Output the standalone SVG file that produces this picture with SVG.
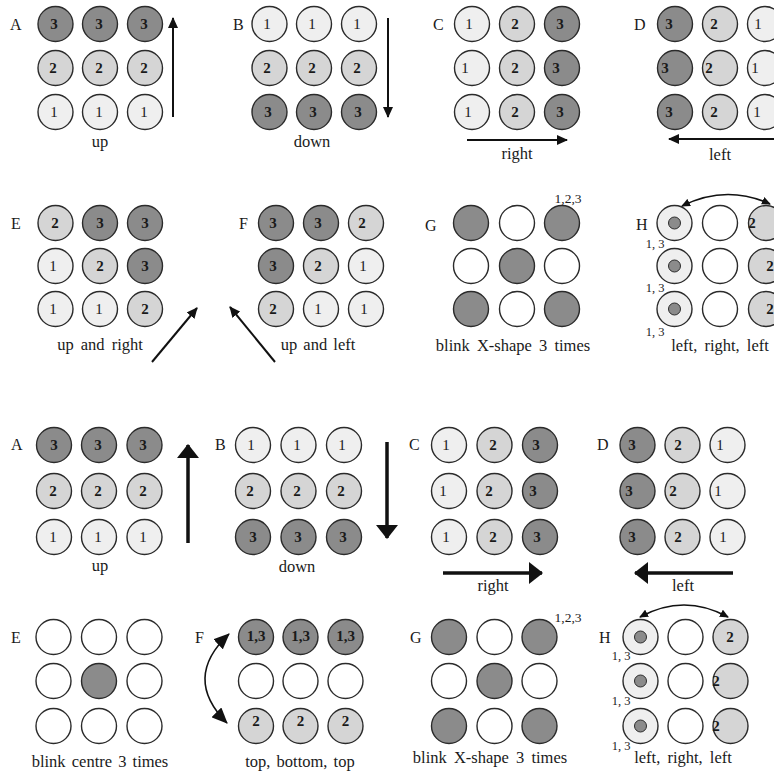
<svg xmlns="http://www.w3.org/2000/svg" width="774" height="771" viewBox="0 0 774 771">
<style>
circle{stroke:#2b2b2b;stroke-width:1.4}
.c0{fill:#ffffff}.c1{fill:#efefef}.c2{fill:#d5d5d5}.c3{fill:#8b8b8b}
.dot{fill:#8b8b8b;stroke:#2b2b2b;stroke-width:1}
text{font-family:"Liberation Serif","Times New Roman","DejaVu Serif",serif;fill:#1a1a1a}
.n{font-size:15px;font-weight:bold;text-anchor:middle}
.n1{font-size:15px;text-anchor:middle}
.L{font-size:16px}
.lbl{font-size:16.5px;text-anchor:middle}
.s{font-size:12.5px;text-anchor:middle}
.s2{font-size:13.5px;text-anchor:middle}
.thin{stroke:#111;stroke-width:2;fill:none}
.thick{stroke:#111;stroke-width:3.5;fill:none}
.curve{stroke:#111;stroke-width:1.6;fill:none}
</style>
<defs>
<marker id="ah" markerUnits="userSpaceOnUse" markerWidth="11" markerHeight="10" refX="10" refY="5" orient="auto-start-reverse"><path d="M0,0 L11,5 L0,10 z" fill="#111"/></marker>
<marker id="ahB" markerUnits="userSpaceOnUse" markerWidth="14" markerHeight="22" refX="13" refY="11" orient="auto-start-reverse"><path d="M0,0 L14,11 L0,22 z" fill="#111"/></marker>
<marker id="ahC" markerUnits="userSpaceOnUse" markerWidth="16" markerHeight="14" refX="15" refY="7" orient="auto-start-reverse"><path d="M0,0 L16,7 L0,14 z" fill="#111"/></marker>
<marker id="ahS" markerUnits="userSpaceOnUse" markerWidth="9" markerHeight="8" refX="8" refY="4" orient="auto-start-reverse"><path d="M0,0 L9,4 L0,8 z" fill="#111"/></marker>
</defs>
<rect width="774" height="771" fill="#fff"/>

<!-- TOP SECTION -->
<g id="topA">
<text class="L" x="10" y="30">A</text>
<circle class="c3" cx="55.5" cy="24" r="17.5"/><circle class="c3" cx="100" cy="24" r="17.5"/><circle class="c3" cx="145" cy="24" r="17.5"/>
<circle class="c2" cx="55.5" cy="68" r="17.5"/><circle class="c2" cx="100" cy="68" r="17.5"/><circle class="c2" cx="145" cy="68" r="17.5"/>
<circle class="c1" cx="55.5" cy="112" r="17.5"/><circle class="c1" cx="100" cy="112" r="17.5"/><circle class="c1" cx="145" cy="112" r="17.5"/>
<text class="n" x="54" y="29">3</text><text class="n" x="99" y="29">3</text><text class="n" x="144" y="29">3</text>
<text class="n" x="53" y="73">2</text><text class="n" x="99" y="73">2</text><text class="n" x="144" y="73">2</text>
<text class="n1" x="54" y="117">1</text><text class="n1" x="99" y="117">1</text><text class="n1" x="144" y="117">1</text>
<text class="lbl" x="100" y="147">up</text>
</g>
<g id="topB">
<text class="L" x="233" y="30">B</text>
<circle class="c1" cx="269.5" cy="24" r="17.5"/><circle class="c1" cx="314" cy="24" r="17.5"/><circle class="c1" cx="359" cy="24" r="17.5"/>
<circle class="c2" cx="269.5" cy="68" r="17.5"/><circle class="c2" cx="314" cy="68" r="17.5"/><circle class="c2" cx="359" cy="68" r="17.5"/>
<circle class="c3" cx="269.5" cy="112" r="17.5"/><circle class="c3" cx="314" cy="112" r="17.5"/><circle class="c3" cx="359" cy="112" r="17.5"/>
<text class="n1" x="267" y="29">1</text><text class="n1" x="312" y="29">1</text><text class="n1" x="357" y="29">1</text>
<text class="n" x="267" y="73">2</text><text class="n" x="312" y="73">2</text><text class="n" x="357" y="73">2</text>
<text class="n" x="268" y="117">3</text><text class="n" x="313" y="117">3</text><text class="n" x="358" y="117">3</text>
<text class="lbl" x="312" y="147">down</text>
</g>
<g id="topC">
<text class="L" x="433" y="30">C</text>
<circle class="c1" cx="472" cy="24" r="17.5"/><circle class="c2" cx="517" cy="24" r="17.5"/><circle class="c3" cx="562" cy="24" r="17.5"/>
<circle class="c1" cx="472" cy="68" r="17.5"/><circle class="c2" cx="517" cy="68" r="17.5"/><circle class="c3" cx="562" cy="68" r="17.5"/>
<circle class="c1" cx="472" cy="112" r="17.5"/><circle class="c2" cx="517" cy="112" r="17.5"/><circle class="c3" cx="562" cy="112" r="17.5"/>
<text class="n1" x="469" y="29">1</text><text class="n" x="515" y="29">2</text><text class="n" x="560" y="29">3</text>
<text class="n1" x="465" y="73">1</text><text class="n" x="515" y="73">2</text><text class="n" x="556" y="73">3</text>
<text class="n1" x="468" y="117">1</text><text class="n" x="515" y="117">2</text><text class="n" x="560" y="117">3</text>
<text class="lbl" x="517" y="159">right</text>
</g>
<g id="topD">
<text class="L" x="634" y="30">D</text>
<circle class="c3" cx="675" cy="24" r="17.5"/><circle class="c2" cx="720" cy="24" r="17.5"/><circle class="c1" cx="765" cy="24" r="17.5"/>
<circle class="c3" cx="675" cy="68" r="17.5"/><circle class="c2" cx="720" cy="68" r="17.5"/><circle class="c1" cx="765" cy="68" r="17.5"/>
<circle class="c3" cx="675" cy="112" r="17.5"/><circle class="c2" cx="720" cy="112" r="17.5"/><circle class="c1" cx="765" cy="112" r="17.5"/>
<text class="n" x="669" y="29">3</text><text class="n" x="714" y="29">2</text><text class="n1" x="758" y="29">1</text>
<text class="n" x="665" y="73">3</text><text class="n" x="709" y="73">2</text><text class="n1" x="755" y="73">1</text>
<text class="n" x="669" y="117">3</text><text class="n" x="714" y="117">2</text><text class="n1" x="757" y="117">1</text>
<text class="lbl" x="720" y="160">left</text>
</g>
<g id="topE">
<text class="L" x="11" y="229">E</text>
<circle class="c2" cx="55.5" cy="223" r="17.5"/><circle class="c3" cx="100" cy="223" r="17.5"/><circle class="c3" cx="145" cy="223" r="17.5"/>
<circle class="c1" cx="55.5" cy="266" r="17.5"/><circle class="c2" cx="100" cy="266" r="17.5"/><circle class="c3" cx="145" cy="266" r="17.5"/>
<circle class="c1" cx="55.5" cy="309" r="17.5"/><circle class="c1" cx="100" cy="309" r="17.5"/><circle class="c2" cx="145" cy="309" r="17.5"/>
<text class="n" x="55" y="228">2</text><text class="n" x="100" y="228">3</text><text class="n" x="145" y="228">3</text>
<text class="n1" x="53" y="271">1</text><text class="n" x="100" y="271">2</text><text class="n" x="145" y="271">3</text>
<text class="n1" x="53" y="314">1</text><text class="n1" x="99" y="314">1</text><text class="n" x="145" y="314">2</text>
<text class="lbl" x="100" y="350" word-spacing="3">up and right</text>
</g>
<g id="topF">
<text class="L" x="239" y="229">F</text>
<circle class="c3" cx="276" cy="223" r="17.5"/><circle class="c3" cx="321" cy="223" r="17.5"/><circle class="c2" cx="366" cy="223" r="17.5"/>
<circle class="c3" cx="276" cy="266" r="17.5"/><circle class="c2" cx="321" cy="266" r="17.5"/><circle class="c1" cx="366" cy="266" r="17.5"/>
<circle class="c2" cx="276" cy="309" r="17.5"/><circle class="c1" cx="321" cy="309" r="17.5"/><circle class="c1" cx="366" cy="309" r="17.5"/>
<text class="n" x="273" y="228">3</text><text class="n" x="318" y="228">3</text><text class="n" x="362" y="228">2</text>
<text class="n" x="273" y="271">3</text><text class="n" x="318" y="271">2</text><text class="n1" x="363" y="271">1</text>
<text class="n" x="273" y="314">2</text><text class="n1" x="318" y="314">1</text><text class="n1" x="364" y="314">1</text>
<text class="lbl" x="318" y="350" word-spacing="2">up and left</text>
</g>
<g id="topG">
<text class="L" x="425" y="231">G</text>
<circle class="c3" cx="471" cy="223" r="17.5"/><circle class="c0" cx="517" cy="223" r="17.5"/><circle class="c3" cx="562" cy="223" r="17.5"/>
<circle class="c0" cx="471" cy="266" r="17.5"/><circle class="c3" cx="517" cy="266" r="17.5"/><circle class="c0" cx="562" cy="266" r="17.5"/>
<circle class="c3" cx="471" cy="309" r="17.5"/><circle class="c0" cx="517" cy="309" r="17.5"/><circle class="c3" cx="562" cy="309" r="17.5"/>
<text class="s2" x="568" y="203">1,2,3</text>
<text class="lbl" x="513" y="351" word-spacing="3">blink X-shape 3 times</text>
</g>
<g id="topH">
<text class="L" x="636" y="230">H</text>
<circle class="c1" cx="674.5" cy="223" r="17.5"/><circle class="c0" cx="720" cy="223" r="17.5"/><circle class="c2" cx="766" cy="223" r="17.5"/>
<circle class="c1" cx="674.5" cy="266" r="17.5"/><circle class="c0" cx="720" cy="266" r="17.5"/><circle class="c2" cx="766" cy="266" r="17.5"/>
<circle class="c1" cx="674.5" cy="309" r="17.5"/><circle class="c0" cx="720" cy="309" r="17.5"/><circle class="c2" cx="766" cy="309" r="17.5"/>
<circle class="dot" cx="674.5" cy="223" r="6"/><circle class="dot" cx="674.5" cy="266" r="6"/><circle class="dot" cx="674.5" cy="309" r="6"/>
<text class="n" x="752" y="228">2</text><text class="n" x="770" y="271">2</text><text class="n" x="770" y="314">2</text>
<text class="s" x="655" y="248">1, 3</text><text class="s" x="655" y="292">1, 3</text><text class="s" x="655" y="336">1, 3</text>
<text class="lbl" x="720" y="351" word-spacing="3">left, right, left</text>
</g>

<!-- BOTTOM SECTION -->
<g id="botA">
<text class="L" x="11" y="450">A</text>
<circle class="c3" cx="54" cy="445" r="17.5"/><circle class="c3" cx="99" cy="445" r="17.5"/><circle class="c3" cx="144.5" cy="445" r="17.5"/>
<circle class="c2" cx="54" cy="491" r="17.5"/><circle class="c2" cx="99" cy="491" r="17.5"/><circle class="c2" cx="144.5" cy="491" r="17.5"/>
<circle class="c1" cx="54" cy="537" r="17.5"/><circle class="c1" cx="99" cy="537" r="17.5"/><circle class="c1" cx="144.5" cy="537" r="17.5"/>
<text class="n" x="54" y="450">3</text><text class="n" x="98" y="450">3</text><text class="n" x="143" y="450">3</text>
<text class="n" x="53" y="496">2</text><text class="n" x="98" y="496">2</text><text class="n" x="143" y="496">2</text>
<text class="n1" x="53" y="542">1</text><text class="n1" x="98" y="542">1</text><text class="n1" x="143" y="542">1</text>
<text class="lbl" x="100" y="571">up</text>
</g>
<g id="botB">
<text class="L" x="215" y="450">B</text>
<circle class="c1" cx="253" cy="445" r="17.5"/><circle class="c1" cx="298.5" cy="445" r="17.5"/><circle class="c1" cx="344" cy="445" r="17.5"/>
<circle class="c2" cx="253" cy="491" r="17.5"/><circle class="c2" cx="298.5" cy="491" r="17.5"/><circle class="c2" cx="344" cy="491" r="17.5"/>
<circle class="c3" cx="253" cy="537" r="17.5"/><circle class="c3" cx="298.5" cy="537" r="17.5"/><circle class="c3" cx="344" cy="537" r="17.5"/>
<text class="n1" x="251" y="450">1</text><text class="n1" x="297" y="450">1</text><text class="n1" x="342" y="450">1</text>
<text class="n" x="250" y="496">2</text><text class="n" x="297" y="496">2</text><text class="n" x="341" y="496">2</text>
<text class="n" x="253" y="542">3</text><text class="n" x="298" y="542">3</text><text class="n" x="343" y="542">3</text>
<text class="lbl" x="297" y="572">down</text>
</g>
<g id="botC">
<text class="L" x="409" y="450">C</text>
<circle class="c1" cx="449" cy="445" r="17.5"/><circle class="c2" cx="494.5" cy="445" r="17.5"/><circle class="c3" cx="540" cy="445" r="17.5"/>
<circle class="c1" cx="449" cy="491" r="17.5"/><circle class="c2" cx="494.5" cy="491" r="17.5"/><circle class="c3" cx="540" cy="491" r="17.5"/>
<circle class="c1" cx="449" cy="537" r="17.5"/><circle class="c2" cx="494.5" cy="537" r="17.5"/><circle class="c3" cx="540" cy="537" r="17.5"/>
<text class="n1" x="446" y="450">1</text><text class="n" x="493" y="450">2</text><text class="n" x="536" y="450">3</text>
<text class="n1" x="443" y="496">1</text><text class="n" x="489" y="496">2</text><text class="n" x="533" y="496">3</text>
<text class="n1" x="446" y="542">1</text><text class="n" x="493" y="542">2</text><text class="n" x="537" y="542">3</text>
<text class="lbl" x="493" y="591">right</text>
</g>
<g id="botD">
<text class="L" x="597" y="450">D</text>
<circle class="c3" cx="637.5" cy="445" r="17.5"/><circle class="c2" cx="682.5" cy="445" r="17.5"/><circle class="c1" cx="727.5" cy="445" r="17.5"/>
<circle class="c3" cx="637.5" cy="491" r="17.5"/><circle class="c2" cx="682.5" cy="491" r="17.5"/><circle class="c1" cx="727.5" cy="491" r="17.5"/>
<circle class="c3" cx="637.5" cy="537" r="17.5"/><circle class="c2" cx="682.5" cy="537" r="17.5"/><circle class="c1" cx="727.5" cy="537" r="17.5"/>
<text class="n" x="632" y="450">3</text><text class="n" x="678" y="450">2</text><text class="n1" x="720" y="450">1</text>
<text class="n" x="629" y="496">3</text><text class="n" x="673" y="496">2</text><text class="n1" x="718" y="496">1</text>
<text class="n" x="632" y="542">3</text><text class="n" x="678" y="542">2</text><text class="n1" x="723" y="542">1</text>
<text class="lbl" x="683" y="591">left</text>
</g>
<g id="botE">
<text class="L" x="11" y="643">E</text>
<circle class="c0" cx="53.5" cy="637" r="17.5"/><circle class="c0" cx="99" cy="637" r="17.5"/><circle class="c0" cx="144.5" cy="637" r="17.5"/>
<circle class="c0" cx="53.5" cy="681" r="17.5"/><circle class="c3" cx="99" cy="681" r="17.5"/><circle class="c0" cx="144.5" cy="681" r="17.5"/>
<circle class="c0" cx="53.5" cy="726" r="17.5"/><circle class="c0" cx="99" cy="726" r="17.5"/><circle class="c0" cx="144.5" cy="726" r="17.5"/>
<text class="lbl" x="100" y="767" word-spacing="2">blink centre 3 times</text>
</g>
<g id="botF">
<text class="L" x="195" y="643">F</text>
<circle class="c3" cx="256" cy="637" r="17.5"/><circle class="c3" cx="300.5" cy="637" r="17.5"/><circle class="c3" cx="345.5" cy="637" r="17.5"/>
<circle class="c0" cx="256" cy="681" r="17.5"/><circle class="c0" cx="300.5" cy="681" r="17.5"/><circle class="c0" cx="345.5" cy="681" r="17.5"/>
<circle class="c2" cx="256" cy="726" r="17.5"/><circle class="c2" cx="300.5" cy="726" r="17.5"/><circle class="c2" cx="345.5" cy="726" r="17.5"/>
<text class="n" x="256" y="641" font-size="13">1,3</text><text class="n" x="300.5" y="641" font-size="13">1,3</text><text class="n" x="345.5" y="641" font-size="13">1,3</text>
<text class="n" x="256" y="726" font-size="13">2</text><text class="n" x="300.5" y="726" font-size="13">2</text><text class="n" x="345.5" y="726" font-size="13">2</text>
<text class="lbl" x="300" y="767" word-spacing="2">top, bottom, top</text>
</g>
<g id="botG">
<text class="L" x="410" y="643">G</text>
<circle class="c3" cx="449" cy="637" r="17.5"/><circle class="c0" cx="494.5" cy="637" r="17.5"/><circle class="c3" cx="539.5" cy="637" r="17.5"/>
<circle class="c0" cx="449" cy="681" r="17.5"/><circle class="c3" cx="494.5" cy="681" r="17.5"/><circle class="c0" cx="539.5" cy="681" r="17.5"/>
<circle class="c3" cx="449" cy="726" r="17.5"/><circle class="c0" cx="494.5" cy="726" r="17.5"/><circle class="c3" cx="539.5" cy="726" r="17.5"/>
<text class="s2" x="568" y="622">1,2,3</text>
<text class="lbl" x="490" y="763" word-spacing="3">blink X-shape 3 times</text>
</g>
<g id="botH">
<text class="L" x="599" y="643">H</text>
<circle class="c1" cx="640.5" cy="637" r="17.5"/><circle class="c0" cx="685.5" cy="637" r="17.5"/><circle class="c2" cx="730.5" cy="637" r="17.5"/>
<circle class="c1" cx="640.5" cy="681" r="17.5"/><circle class="c0" cx="685.5" cy="681" r="17.5"/><circle class="c2" cx="730.5" cy="681" r="17.5"/>
<circle class="c1" cx="640.5" cy="726" r="17.5"/><circle class="c0" cx="685.5" cy="726" r="17.5"/><circle class="c2" cx="730.5" cy="726" r="17.5"/>
<circle class="dot" cx="640.5" cy="637" r="6"/><circle class="dot" cx="640.5" cy="681" r="6"/><circle class="dot" cx="640.5" cy="726" r="6"/>
<text class="n" x="730" y="642">2</text><text class="n" x="716" y="686">2</text><text class="n" x="716" y="731">2</text>
<text class="s" x="621" y="660">1, 3</text><text class="s" x="621" y="705">1, 3</text><text class="s" x="621" y="750">1, 3</text>
<text class="lbl" x="683" y="763" word-spacing="3">left, right, left</text>
</g>

<g id="connectors">
<line class="thin" x1="173" y1="117" x2="173" y2="18" marker-end="url(#ah)"/>
<line class="thin" x1="388" y1="18" x2="388" y2="117" marker-end="url(#ah)"/>
<line class="thin" x1="467" y1="140" x2="567" y2="140" marker-end="url(#ah)"/>
<line class="thin" x1="774" y1="139" x2="669" y2="139" marker-end="url(#ah)"/>
<line class="thin" x1="152" y1="362" x2="197" y2="308" marker-end="url(#ah)"/>
<line class="thin" x1="275" y1="362" x2="230" y2="307" marker-end="url(#ah)"/>
<path class="curve" d="M682,206 Q726,184 770,204" marker-start="url(#ahS)" marker-end="url(#ahS)"/>
<line class="thick" x1="188" y1="543" x2="188" y2="445" marker-end="url(#ahB)"/>
<line class="thick" x1="387" y1="442" x2="387" y2="538" marker-end="url(#ahB)"/>
<line class="thick" x1="443" y1="573" x2="542" y2="573" marker-end="url(#ahB)"/>
<line class="thick" x1="733" y1="573" x2="635" y2="573" marker-end="url(#ahB)"/>
<path class="curve" d="M229,634 Q182,678 227,723" marker-start="url(#ahC)" marker-end="url(#ahC)"/>
<path class="curve" d="M640,617 Q684,593 728,617" marker-start="url(#ahS)" marker-end="url(#ahS)"/>
</g>
</svg>
